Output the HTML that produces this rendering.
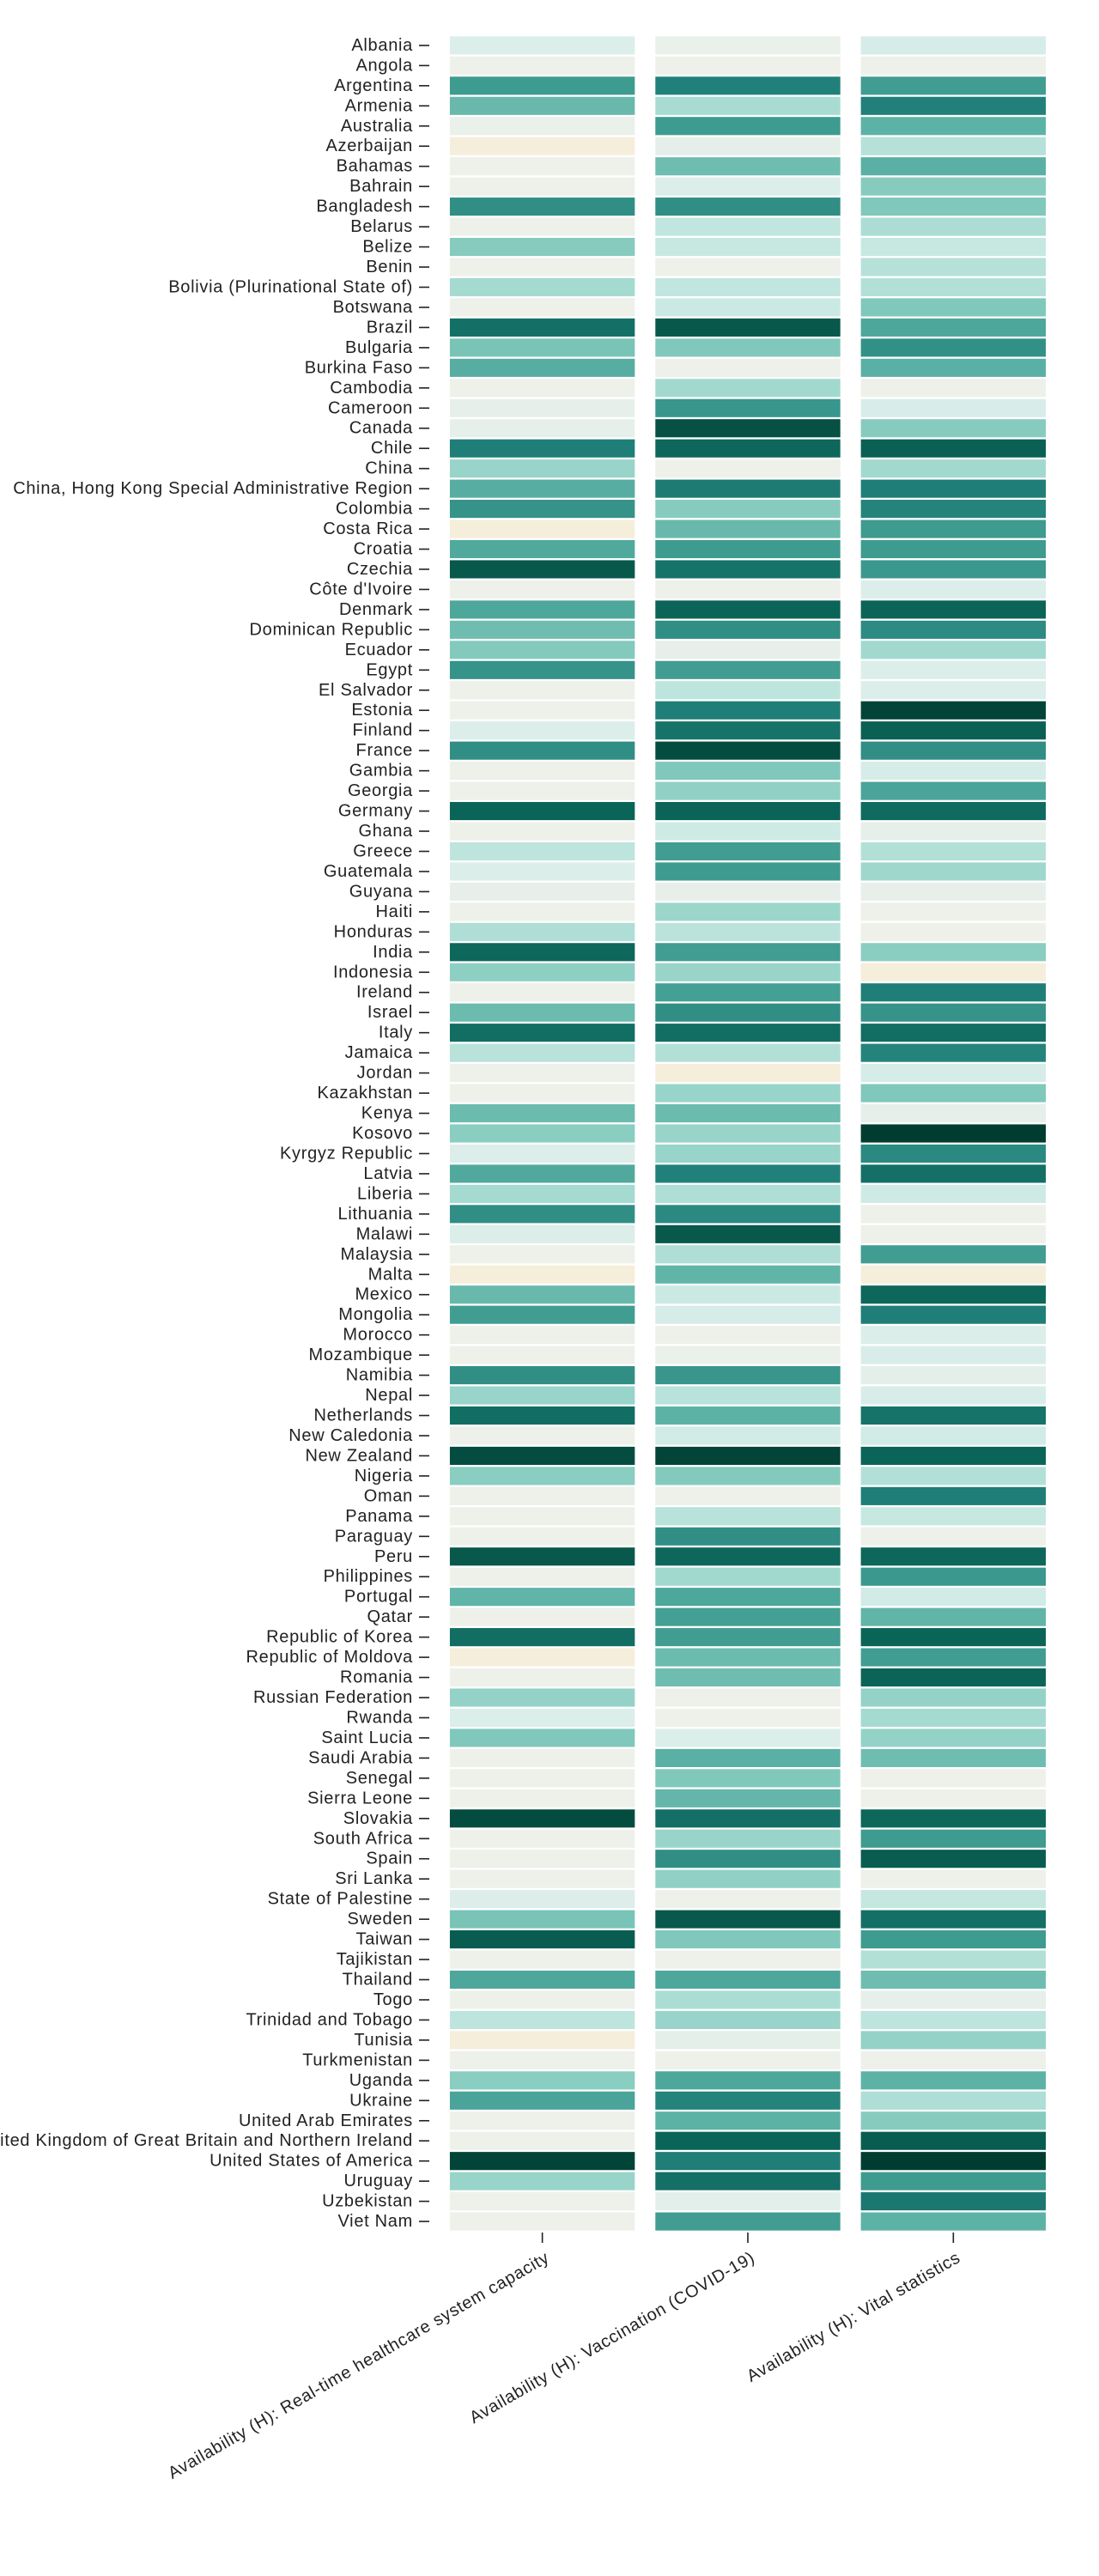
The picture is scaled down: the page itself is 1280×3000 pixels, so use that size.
<!DOCTYPE html>
<html><head><meta charset="utf-8">
<style>
html,body{margin:0;padding:0;background:#fff;}
svg{display:block;font-family:"Liberation Sans",sans-serif;}
text{letter-spacing:0.7px;}
</style></head>
<body>
<svg id="chart" width="1280" height="3000" viewBox="0 0 1280 3000" xmlns="http://www.w3.org/2000/svg"></svg>
<script>
const countries = ["Albania","Angola","Argentina","Armenia","Australia","Azerbaijan","Bahamas","Bahrain","Bangladesh","Belarus","Belize","Benin","Bolivia (Plurinational State of)","Botswana","Brazil","Bulgaria","Burkina Faso","Cambodia","Cameroon","Canada","Chile","China","China, Hong Kong Special Administrative Region","Colombia","Costa Rica","Croatia","Czechia","Côte d'Ivoire","Denmark","Dominican Republic","Ecuador","Egypt","El Salvador","Estonia","Finland","France","Gambia","Georgia","Germany","Ghana","Greece","Guatemala","Guyana","Haiti","Honduras","India","Indonesia","Ireland","Israel","Italy","Jamaica","Jordan","Kazakhstan","Kenya","Kosovo","Kyrgyz Republic","Latvia","Liberia","Lithuania","Malawi","Malaysia","Malta","Mexico","Mongolia","Morocco","Mozambique","Namibia","Nepal","Netherlands","New Caledonia","New Zealand","Nigeria","Oman","Panama","Paraguay","Peru","Philippines","Portugal","Qatar","Republic of Korea","Republic of Moldova","Romania","Russian Federation","Rwanda","Saint Lucia","Saudi Arabia","Senegal","Sierra Leone","Slovakia","South Africa","Spain","Sri Lanka","State of Palestine","Sweden","Taiwan","Tajikistan","Thailand","Togo","Trinidad and Tobago","Tunisia","Turkmenistan","Uganda","Ukraine","United Arab Emirates","United Kingdom of Great Britain and Northern Ireland","United States of America","Uruguay","Uzbekistan","Viet Nam"];
const metrics = ["Availability (H): Real-time healthcare system capacity","Availability (H): Vaccination (COVID-19)","Availability (H): Vital statistics"];
const healthcare = [20,10,70,57,12,0,10,10,75,10,48,10,39,10,86,52,62,10,14,14,81,43,62,73,0,64,93,10,65,55,49,73,10,10,20,75,10,10,90,10,31,20,13,10,36,89,46,10,56,87,33,10,10,56,47,19,64,39,75,20,10,0,57,69,10,10,75,43,87,10,96,47,10,10,10,93,10,59,10,87,0,10,44,20,50,10,10,10,96,10,10,10,19,52,92,10,65,10,31,0,10,47,66,10,10,98,43,10,10];
const vaccination = [12,10,80,38,70,15,55,20,75,30,28,10,30,26,93,50,10,40,72,95,89,10,82,48,57,70,85,10,90,75,14,69,31,81,85,96,50,45,90,25,69,70,13,42,32,69,43,68,75,87,35,0,43,56,43,43,80,36,77,93,36,59,26,22,10,12,72,33,60,24,98,49,10,33,75,89,40,65,68,69,56,55,10,10,20,61,50,58,86,43,75,45,10,93,50,10,65,37,43,15,10,65,79,60,90,81,86,16,69];
const vital = [22,10,69,80,60,34,61,48,50,37,28,34,35,50,65,74,61,10,21,48,91,40,81,79,70,70,71,20,90,76,40,20,20,98,91,75,22,66,88,14,35,41,13,10,10,47,0,81,73,87,79,22,50,14,100,77,86,25,10,10,69,0,89,81,20,21,15,21,85,24,90,35,81,28,10,89,71,24,59,90,69,90,44,39,44,55,10,10,89,70,92,10,29,86,70,35,55,14,31,44,10,60,36,48,92,100,70,83,60];
const series = [healthcare, vaccination, vital];

const stopsV = [0,10,20,30,40,50,60,70,80,90,100];
const stopsC = ["#f5eedb","#eef0ea","#dbeeea","#c1e6df","#a2d9cf","#80c8bb","#5db2a6","#3e9b90","#21817a","#0b6458","#003c30"];
function hex(c){return [parseInt(c.slice(1,3),16),parseInt(c.slice(3,5),16),parseInt(c.slice(5,7),16)];}
function color(v){
  v=Math.max(0,Math.min(100,v));
  let i=Math.min(stopsV.length-2,Math.floor(v/10));
  const t=(v-stopsV[i])/(stopsV[i+1]-stopsV[i]);
  const a=hex(stopsC[i]),b=hex(stopsC[i+1]);
  return "rgb("+a.map((x,k)=>Math.round(x+(b[k]-x)*t)).join(",")+")";
}
const X0=500,X1=1242,Y0=40,Y1=2600;
const xStep=(X1-X0)/(metrics.length+0.1);
const yStep=(Y1-Y0)/(countries.length+0.1);
function xPos(j){return X0+xStep*(0.1+j);}
function yPos(i){return Y0+yStep*(0.1+i);}
const xBW=xStep*0.9,yBW=yStep*0.9;

const NS="http://www.w3.org/2000/svg";
const svg=document.getElementById("chart");
function mk(tag,attrs,parent){const e=document.createElementNS(NS,tag);for(const k in attrs)e.setAttribute(k,attrs[k]);(parent||svg).appendChild(e);return e;}

const cells=mk("g",{});


series.forEach((vals,j)=>{
  vals.forEach((v,i)=>{
    const r=mk("rect",{x:xPos(j),y:yPos(i),width:xBW,height:yBW,fill:color(v)},cells);
    
    
  });
});

const yAxis=mk("g",{});


countries.forEach((c,i)=>{
  const cy=yPos(i)+yBW/2;
  const l=mk("line",{x1:488,x2:500,y1:cy,y2:cy,stroke:"#222","stroke-width":1.6},yAxis);
  
  
  const t=mk("text",{x:481,y:cy,"text-anchor":"end","dominant-baseline":"central","font-size":"20",fill:"#222"},yAxis);
  t.textContent=c;
  
  
});

const xAxis=mk("g",{});


metrics.forEach((m,j)=>{
  const cx=xPos(j)+xBW/2;
  const l=mk("line",{x1:cx,x2:cx,y1:2600,y2:2612,stroke:"#222","stroke-width":1.6},xAxis);
  
  
  const t=mk("text",{transform:"translate("+(cx+2)+",2620) rotate(-30)","text-anchor":"end",dy:"0.75em","font-size":"20",fill:"#222"},xAxis);
  t.textContent=m;
  
  
});
</script>
</body></html>
